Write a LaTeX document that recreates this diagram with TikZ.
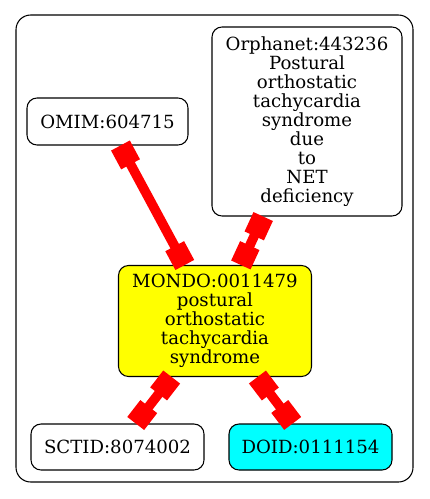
\documentclass[tikz,border=0pt]{standalone}
\usepackage{fontspec}
\setmainfont{DejaVu Serif}
\definecolor{termyellow}{RGB}{255,255,0}
\definecolor{termcyan}{RGB}{0,255,255}
\definecolor{linkred}{RGB}{255,0,0}
\usetikzlibrary{arrows.meta, positioning}

\begin{document}
\begin{tikzpicture}[
  x=0.75pt, y=-0.75pt,
  term/.style={rectangle, rounded corners=7.5pt,
    draw=black, line width=0.8pt, fill=white,
    align=center, inner sep=0pt,
    font=\fontsize{13.6}{14.2}\selectfont},
  link/.style={{Rectangle[length=16pt,width=16pt]}-{Rectangle[length=16pt,width=16pt]},
    line width=7.2pt, draw=linkred, fill=linkred}
]
  \useasboundingbox (0,0) rectangle (429,499);

  % cluster frame
  \draw[line width=0.8pt, rounded corners=11pt] (16,15) rectangle (413,482);

  % terms
  \node[term, minimum width=120.75pt, minimum height=35.25pt] (omim) at (107.5,121.5)
    {OMIM:604715};
  \node[term, minimum width=142.5pt, minimum height=141.75pt] (orpha) at (307,121.5)
    {Orphanet:443236\\Postural\\orthostatic\\tachycardia\\syndrome\\due\\to\\NET\\deficiency};
  \node[term, fill=termyellow, minimum width=144.75pt, minimum height=83.25pt] (mondo) at (215,321)
    {MONDO:0011479\\postural\\orthostatic\\tachycardia\\syndrome};
  \node[term, minimum width=129.75pt, minimum height=34.5pt] (sctid) at (117.5,447)
    {SCTID:8074002};
  \node[term, fill=termcyan, minimum width=122.25pt, minimum height=34.5pt] (doid) at (310.5,447)
    {DOID:0111154};

  % links
  \draw[link] (omim) -- (mondo);
  \draw[link] (orpha) -- (mondo);
  \draw[link] (mondo) -- (sctid);
  \draw[link] (mondo) -- (doid);
\end{tikzpicture}
\end{document}
